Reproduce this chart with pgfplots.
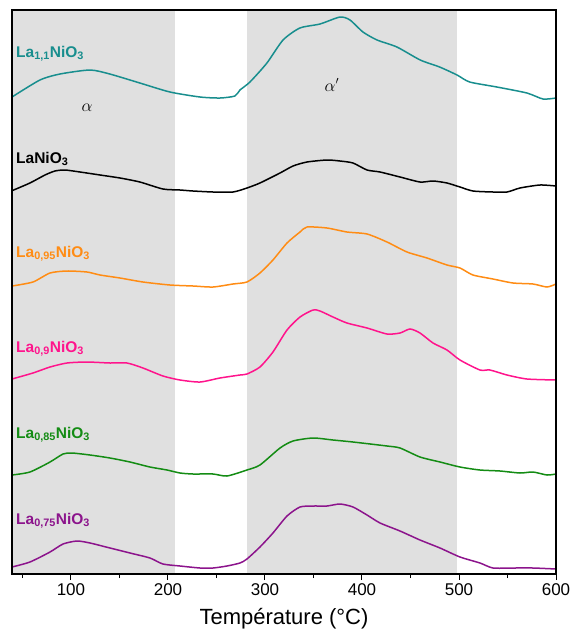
\documentclass[border=0pt]{standalone}
\usepackage{pgfplots}
\pgfplotsset{compat=1.18}
\usepackage{fontspec}
\setmainfont{Liberation Sans}
\definecolor{cteal}{RGB}{24,142,142}
\definecolor{corange}{RGB}{255,140,20}
\definecolor{cpink}{RGB}{255,20,140}
\definecolor{cgreen}{RGB}{20,140,20}
\definecolor{cpurple}{RGB}{140,20,140}
\definecolor{band}{RGB}{224,224,224}
\begin{document}
\begin{tikzpicture}
\begin{axis}[
  scale only axis, width=544pt, height=564pt,
  xmin=39.2, xmax=600, ymin=10, ymax=574, y dir=reverse,
  axis line style={line width=1.2pt},
  xtick={100,200,300,400,500,600},
  minor xtick={50,150,250,350,450,550},
  ytick=\empty,
  tick align=outside, tick pos=left,
  major tick length=6pt, minor tick length=4pt,
  every tick/.style={line width=1pt, black},
  ticklabel style={font=\fontsize{17}{20}\selectfont},
  /pgf/number format/assume math mode=true,
  xlabel={Température (°C)},
  xlabel style={font=\fontsize{22}{26}\selectfont, yshift=-6pt},
  clip=true, axis on top,
  curve/.style={line width=1.5pt, smooth, tension=0.4},
]
\addplot[fill=band, draw=none, sharp plot] coordinates {(39.2,10)(207,10)(207,574)(39.2,574)} --cycle;
\addplot[fill=band, draw=none, sharp plot] coordinates {(281,10)(497.5,10)(497.5,574)(281,574)} --cycle;

\addplot[cteal, curve] coordinates {(39.2,97)(68,80)(88.7,74)(119.6,70)(140,74)(171,83)(202,92)(233,97)(253.6,98)(269,96)(274.2,90)(284.5,82)(302,63)(318.6,40)(336,28)(356.7,24)(377.3,17)(387.6,20)(401,32)(415.5,40)(436,47)(460,60)(480,67)(498,75)(511,82)(539,87)(570,93)(586.6,99)(600,98)};
\addplot[black, curve] coordinates {(39.2,190.7)(57.7,183)(73.2,175)(83.5,171)(93.8,170)(109.3,172)(130,175)(150.5,178)(171,182)(194.8,189)(212.4,190)(225.8,191)(246.4,192)(267,192)(281.4,188)(294.8,183)(315.5,173)(328.9,166)(343.3,162)(363.9,160)(377.3,161)(390.7,163)(405.2,170)(418.6,172)(439.2,177)(459.8,182)(473.2,181)(487.6,183)(501,187)(514.4,191)(535,192)(549.5,192)(562.9,188)(583.5,185)(600,186)};
\addplot[corange, curve] coordinates {(39.2,286)(60.8,282)(78.4,273)(95.9,271)(116.5,272)(130,275)(150.5,278)(174.2,282)(202,285)(225.8,286)(246.4,287)(267,284)(281.4,282)(294.8,273)(308.2,260)(322.7,243)(336.1,232)(343.3,227)(363.9,228)(384.5,232)(405.2,234)(425.8,242)(446.4,252)(467,258)(487.6,265)(501,268)(514.4,275)(535,279)(555.7,283)(576.3,284)(590.7,287)(600,284)};
\addplot[cpink, curve] coordinates {(39.2,379)(60.8,373)(78.4,367)(95.9,363)(116.5,362)(140.2,363)(157.7,363)(174.2,368)(194.8,376)(212.4,380)(233,382)(253.6,378)(274.2,375)(281.4,374)(294.8,367)(308.2,352)(322.7,330)(336.1,317)(349.5,310)(356.7,311)(370.1,317)(384.5,323)(405.2,328)(425.8,334)(439.2,333)(449.5,329)(459.8,333)(473.2,343)(487.6,350)(501,360)(521.6,370)(531.9,370)(549.5,375)(570.1,379)(600,380)};
\addplot[cgreen, curve] coordinates {(39.2,475)(57.7,472)(78.4,462)(91.8,454)(101,453)(119.6,455)(140.2,458)(160.8,462)(181.4,467)(199,470)(212.4,473)(225.8,474)(246.4,474)(260.8,476)(281.4,470)(294.8,465)(315.5,448)(328.9,441)(349.5,438)(370.1,440)(390.7,442)(425.8,446)(439.2,448)(459.8,457)(480.4,462)(501,467)(521.6,470)(542.3,471)(562.9,473)(576.3,472)(590.7,475)(600,474)};
\addplot[cpurple, curve] coordinates {(39.2,567)(57.7,562)(78.4,552)(91.8,544)(106.2,541)(119.6,543)(140.2,548)(160.8,553)(181.4,558)(194.8,564)(212.4,566)(233,568)(246.4,568)(260.8,566)(274.2,563)(281.4,559)(294.8,547)(308.2,533)(322.7,516)(336.1,507)(349.5,506)(363.9,506)(377.3,504)(390.7,507)(405.2,515)(418.6,523)(439.2,531)(459.8,540)(480.4,548)(501,557)(521.6,563)(535,568)(555.7,568)(576.3,568)(600,569)};

\begin{scope}[every node/.style={anchor=base west, font=\fontsize{15.5}{18}\selectfont\bfseries, inner sep=0pt}]
\node[text=cteal] at (axis cs:43.3,57) {La\textsubscript{1,1}NiO\textsubscript{3}};
\node[text=black] at (axis cs:43.3,163) {LaNiO\textsubscript{3}};
\node[text=corange] at (axis cs:43.3,257) {La\textsubscript{0,95}NiO\textsubscript{3}};
\node[text=cpink] at (axis cs:43.3,352) {La\textsubscript{0,9}NiO\textsubscript{3}};
\node[text=cgreen] at (axis cs:43.3,438) {La\textsubscript{0,85}NiO\textsubscript{3}};
\node[text=cpurple] at (axis cs:43.3,524) {La\textsubscript{0,75}NiO\textsubscript{3}};
\end{scope}
\node[font=\fontsize{16}{19}\selectfont] at (axis cs:116.5,108) {$\alpha$};
\node[font=\fontsize{16}{19}\selectfont] at (axis cs:369,85) {$\alpha'$};
\end{axis}
\path (current axis.south west) ++(-12pt,-69pt) coordinate (bbA);
\path (current axis.north east) ++(13pt,10pt) coordinate (bbB);
\useasboundingbox (bbA) rectangle (bbB);
\end{tikzpicture}
\end{document}
